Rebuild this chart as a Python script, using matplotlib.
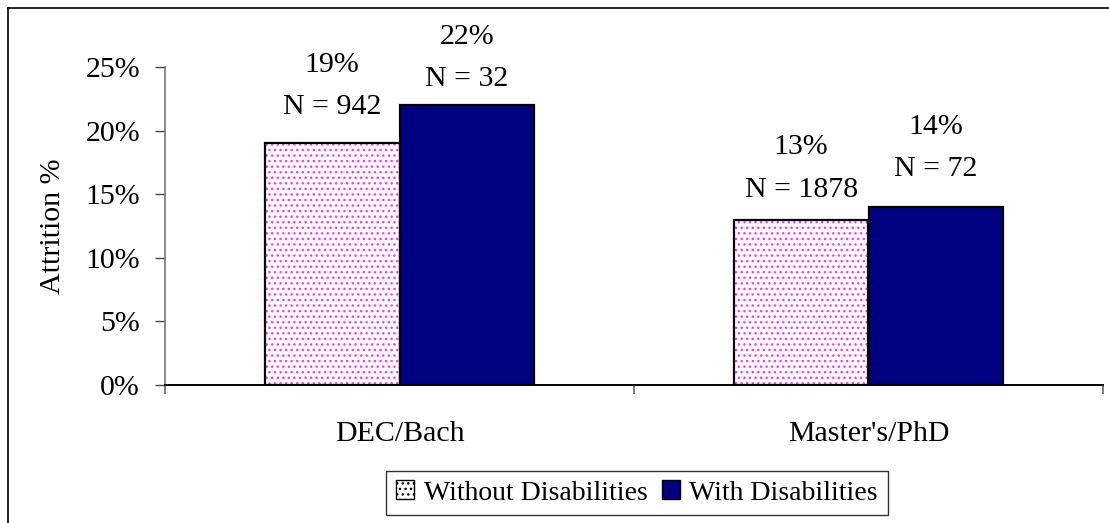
import matplotlib
matplotlib.use('Agg')
import matplotlib.pyplot as plt
import numpy as np
from matplotlib.patches import Patch
from matplotlib.lines import Line2D

plt.rcParams['font.family'] = ['Liberation Serif', 'DejaVu Serif']

# data
categories = ['DEC/Bach', "Master's/PhD"]
series_names = ['Without Disabilities', 'With Disabilities']
without_pct = [19, 13]
with_pct = [22, 14]
without_n = [942, 1878]
with_n = [32, 72]
y_ticks = [0, 5, 10, 15, 20, 25]

# label gap above each bar top (points) - style only
gap_without = [20.9, 16.6]
gap_with = [13.7, 22.3]

W, H = 1109, 523
fig = plt.figure(figsize=(W / 100, H / 100), dpi=100)
ax = fig.add_axes([165 / W, 1 - 385 / H, (1103 - 165) / W, (385 - 67) / H])

x = np.arange(len(categories))
bw = 0.2875
fs = 21.5

# pink dotted bars: hatch layer then outline
ax.bar(x - bw / 2, without_pct, bw, color='white', edgecolor='#ff33ff',
       hatch='...', linewidth=0, zorder=2)
ax.bar(x - bw / 2, without_pct, bw, fill=False, edgecolor='black',
       linewidth=1.6, zorder=3)
ax.bar(x + bw / 2, with_pct, bw, color='#000080', edgecolor='black',
       linewidth=1.6, zorder=3)

for i in range(len(categories)):
    ax.annotate(f'{without_pct[i]}%\nN = {without_n[i]}', (x[i] - bw / 2, without_pct[i]),
                xytext=(0, gap_without[i]), textcoords='offset points',
                ha='center', va='baseline', fontsize=fs, linespacing=1.82,
                annotation_clip=False)
    ax.annotate(f'{with_pct[i]}%\nN = {with_n[i]}', (x[i] + bw / 2, with_pct[i]),
                xytext=(0, gap_with[i]), textcoords='offset points',
                ha='center', va='baseline', fontsize=fs, linespacing=1.82,
                annotation_clip=False)

ax.set_xlim(-0.5, 1.5)
ax.set_ylim(0, 25)
ax.set_yticks(y_ticks)
ax.set_yticklabels([f'{t}%' for t in y_ticks], fontsize=fs)
ax.set_xticks([-0.5, 0.5, 1.5])
ax.set_xticklabels([])
ax.set_xticks(x, minor=True)
ax.set_xticklabels(categories, minor=True, fontsize=fs)
ax.tick_params(axis='x', which='minor', length=0, pad=26)
ax.tick_params(axis='x', which='major', length=6.5, width=1.2, color='#666666')
ax.tick_params(axis='y', length=7.2, width=1, color='#444444', pad=10.8)
ax.set_ylabel('Attrition %', fontsize=fs, labelpad=14)

for s in ['top', 'right']:
    ax.spines[s].set_visible(False)
ax.spines['left'].set_color('#777777')
ax.spines['left'].set_linewidth(1.2)
ax.spines['bottom'].set_linewidth(1.4)

handles = [Patch(facecolor='white', edgecolor='black', hatch='...', linewidth=1),
           Patch(facecolor='#000080', edgecolor='black', linewidth=1)]
leg = fig.legend(handles, series_names, loc='center', bbox_to_anchor=(637 / W, 1 - 493 / H),
                 fontsize=20, frameon=True, fancybox=False, handlelength=0.65,
                 handleheight=0.65, handletextpad=0.35, columnspacing=0.5, ncol=2,
                 borderpad=0.35, borderaxespad=0)
leg.get_frame().set_edgecolor('black')
leg.get_frame().set_linewidth(1)

# chart-area border (left and top visible in the image)
fig.add_artist(Line2D([8 / W, 8 / W], [0, 1 - 8 / H], transform=fig.transFigure,
                      color='black', linewidth=1.2))
fig.add_artist(Line2D([8 / W, 1], [1 - 8 / H, 1 - 8 / H], transform=fig.transFigure,
                      color='black', linewidth=1.2))

fig.savefig('out.png', dpi=100)
